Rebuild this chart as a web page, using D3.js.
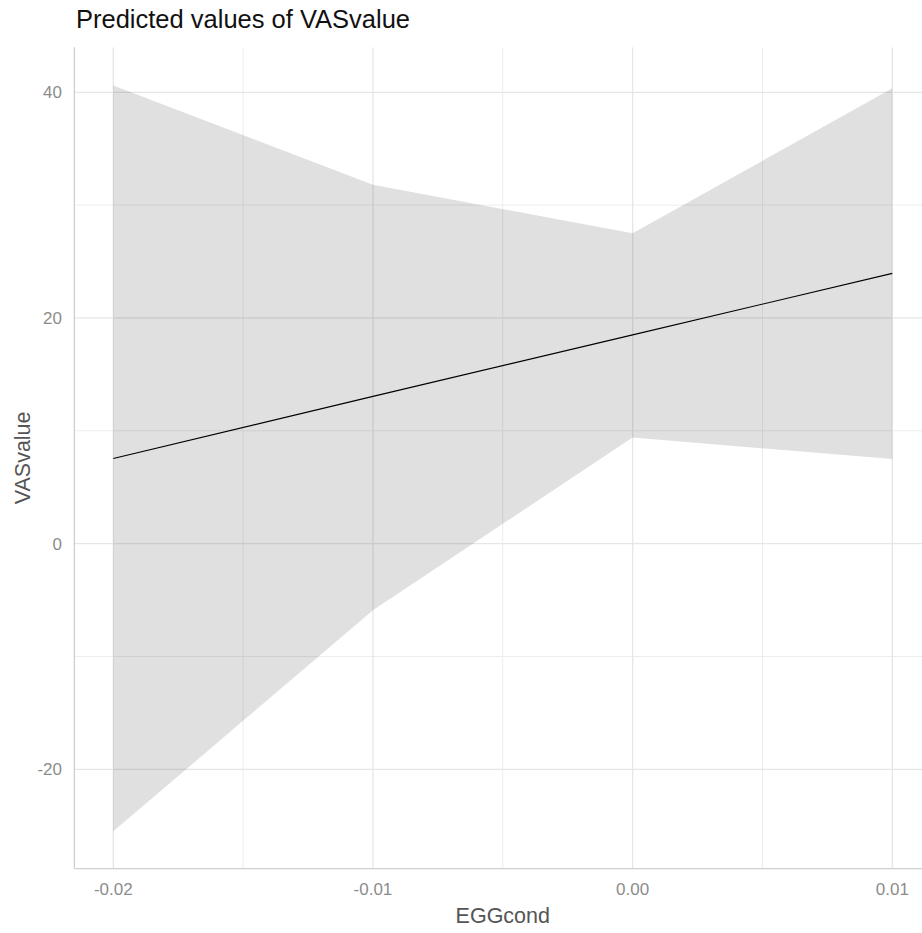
<!DOCTYPE html>
<html>
<head>
<meta charset="utf-8">
<script src="https://cdn.jsdelivr.net/npm/d3@7"></script>
<style>
  html, body { margin: 0; padding: 0; background: #fff; }
  svg { display: block; font-family: "Liberation Sans", Arial, sans-serif; }
</style>
</head>
<body>
<svg id="chart" width="922" height="933"></svg>
<script>
// ---- data ----
const egg = [-0.02, -0.01, 0.00, 0.01];
const predicted = [7.55, 13.05, 18.5, 23.95];
const confLow = [-25.5, -5.9, 9.4, 7.5];
const confHigh = [40.6, 31.8, 27.5, 40.35];
const xTicks = [-0.02, -0.01, 0.00, 0.01];
const xTickLabels = ["-0.02", "-0.01", "0.00", "0.01"];
const xMinor = [-0.015, -0.005, 0.005];
const yTicks = [-20, 0, 20, 40];
const yTickLabels = ["-20", "0", "20", "40"];
const yMinor = [-10, 10, 30];
const titleText = "Predicted values of VASvalue";
const xTitle = "EGGcond";
const yTitle = "VASvalue";

(function () {
const svg = d3.select("#chart");

const x = d3.scaleLinear().domain([-0.02, 0.01]).range([113.3, 892.3]);
const y = d3.scaleLinear().domain([-20, 40]).range([769.3, 92.3]);

const pLeft = x(-0.0215), pRight = x(0.0115);
const pTop = y(44.0), pBottom = y(-28.8);

const rows = egg.map((e, i) => ({x: e, p: predicted[i], lo: confLow[i], hi: confHigh[i]}));

svg.append("defs").append("clipPath").attr("id", "clip")
  .append("rect").attr("x", pLeft).attr("y", pTop)
  .attr("width", pRight - pLeft).attr("height", pBottom - pTop);

const panel = svg.append("g").attr("clip-path", "url(#clip)");

// minor grid
panel.selectAll(".xminor").data(xMinor).enter().append("line")
  .attr("x1", d => x(d)).attr("x2", d => x(d)).attr("y1", pTop).attr("y2", pBottom)
  .attr("stroke", "#ededed").attr("stroke-width", 1);
panel.selectAll(".yminor").data(yMinor).enter().append("line")
  .attr("x1", pLeft).attr("x2", pRight).attr("y1", d => y(d)).attr("y2", d => y(d))
  .attr("stroke", "#ededed").attr("stroke-width", 1);
// major grid
panel.selectAll(".xmajor").data(xTicks).enter().append("line")
  .attr("x1", d => x(d)).attr("x2", d => x(d)).attr("y1", pTop).attr("y2", pBottom)
  .attr("stroke", "#e6e6e6").attr("stroke-width", 1.3);
panel.selectAll(".ymajor").data(yTicks).enter().append("line")
  .attr("x1", pLeft).attr("x2", pRight).attr("y1", d => y(d)).attr("y2", d => y(d))
  .attr("stroke", "#e6e6e6").attr("stroke-width", 1.3);

// ribbon
const area = d3.area().x(d => x(d.x)).y0(d => y(d.lo)).y1(d => y(d.hi));
panel.append("path").datum(rows).attr("d", area)
  .attr("fill", "#000").attr("fill-opacity", 0.12);

// line
const line = d3.line().x(d => x(d.x)).y(d => y(d.p));
panel.append("path").datum(rows).attr("d", line)
  .attr("fill", "none").attr("stroke", "#000").attr("stroke-width", 1.1);

// axis lines
svg.append("line").attr("x1", pLeft).attr("x2", pLeft).attr("y1", pTop).attr("y2", pBottom)
  .attr("stroke", "#cfcfcf").attr("stroke-width", 1.3);
svg.append("line").attr("x1", pLeft).attr("x2", pRight).attr("y1", pBottom).attr("y2", pBottom)
  .attr("stroke", "#cfcfcf").attr("stroke-width", 1.3);

// tick labels
const tickColor = "#8c8c8c";
svg.selectAll(".ylab").data(yTicks).enter().append("text")
  .attr("x", 62).attr("y", d => y(d)).attr("dy", "0.36em")
  .attr("text-anchor", "end").attr("font-size", 17).attr("fill", tickColor)
  .text((d, i) => yTickLabels[i]);
svg.selectAll(".xlab").data(xTicks).enter().append("text")
  .attr("x", d => x(d)).attr("y", 895)
  .attr("text-anchor", "middle").attr("font-size", 17).attr("fill", tickColor)
  .text((d, i) => xTickLabels[i]);

// axis titles
svg.append("text").attr("x", (pLeft + pRight) / 2).attr("y", 923)
  .attr("text-anchor", "middle").attr("font-size", 21.5).attr("fill", "#555")
  .text(xTitle);
svg.append("text")
  .attr("transform", `translate(30,${(pTop + pBottom) / 2}) rotate(-90)`)
  .attr("text-anchor", "middle").attr("font-size", 21.5).attr("fill", "#555")
  .text(yTitle);

// title
svg.append("text").attr("x", 76).attr("y", 28)
  .attr("font-size", 25.5).attr("fill", "#111")
  .text(titleText);
})();
</script>
</body>
</html>
